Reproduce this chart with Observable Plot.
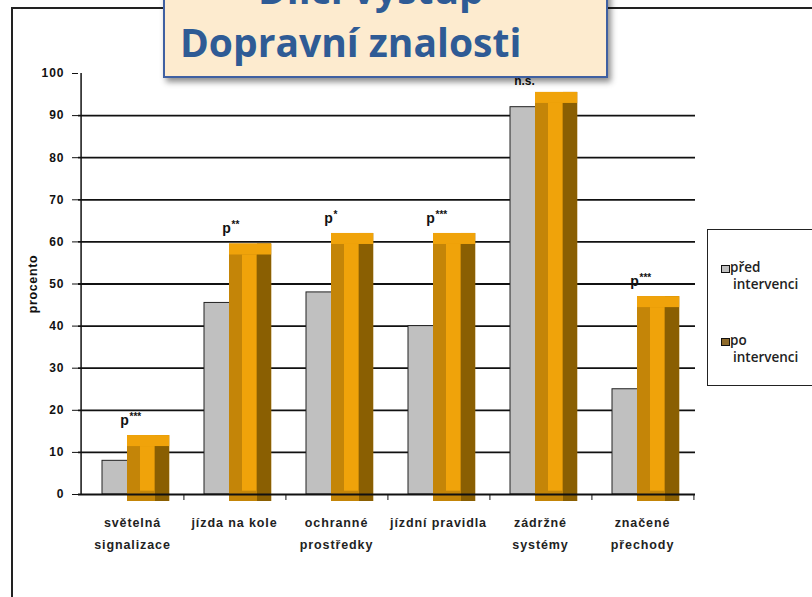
<!DOCTYPE html>
<html>
<head>
<meta charset="utf-8">
<script src="https://cdn.jsdelivr.net/npm/d3@7"></script>
<script src="https://cdn.jsdelivr.net/npm/@observablehq/plot@0.6"></script>
<style>
  html, body { margin: 0; padding: 0; background: #fff; }
  #wrap { position: relative; width: 812px; height: 597px; overflow: hidden; font-family: "Liberation Sans", Arial, sans-serif; }
  #frame { position: absolute; left: 11px; top: 7px; width: 900px; height: 700px; border: 2px solid #222; box-sizing: border-box; }
  #chart { position: absolute; left: 0; top: 0; }
  #title { position: absolute; left: 163px; top: -20px; width: 445px; height: 98px; background: #FDEBCF; border: 2px solid #3F60A2; box-sizing: border-box; box-shadow: 3px 4px 6px rgba(0,0,0,0.45); font-family: "Open Sans", "Noto Sans", sans-serif; font-weight: 700; color: #2F5B95; font-size: 39px; white-space: nowrap; overflow: hidden; }
  #title .l1 { position: absolute; left: 93px; top: -13px; line-height: 40px; }
  #title .l2 { position: absolute; left: 15px; top: 40px; line-height: 40px; }
  #legend { position: absolute; left: 707px; top: 229px; width: 130px; height: 157px; border: 1.5px solid #222; box-sizing: border-box; background: #fff; font-family: "Open Sans", sans-serif; font-size: 13.5px; color: #222; font-weight: 600; }
  .sw { position: absolute; width: 7px; height: 6px; border: 1px solid #111; }
  .lt { position: absolute; line-height: 15px; }
</style>
</head>
<body>
<div id="wrap">
  <div id="frame"></div>
  <div id="chart"></div>
  <div id="legend"></div>
  <div id="title"><div class="l1">Dílčí výstup</div><div class="l2">Dopravní znalosti</div></div>
</div>
<script>
const categories = ["světelná signalizace", "jízda na kole", "ochranné prostředky", "jízdní pravidla", "zádržné systémy", "značené přechody"];
const categoryLabels = ["světelná\nsignalizace", "jízda na kole", "ochranné\nprostředky", "jízdní pravidla", "zádržné\nsystémy", "značené\npřechody"];
const predIntervenci = [8, 45.5, 48, 40, 92, 25];
const poIntervenci = [14, 59.5, 62, 62, 95.5, 47];
const significance = ["***", "**", "*", "***", "n.s.", "***"];
const yTicks = [0, 10, 20, 30, 40, 50, 60, 70, 80, 90, 100];
const seriesNames = ["před\nintervenci", "po\nintervenci"];

const rows = categories.map((c, i) => ({cat: c, pred: predIntervenci[i], po: poIntervenci[i], sig: significance[i]}));
const labelOf = new Map(categories.map((c, i) => [c, categoryLabels[i]]));

const W = 812, H = 597, mL = 78, mR = 117, mT = 73, mB = 103;
const bw = (W - mL - mR) / categories.length;
const yPerPx = 100 / (H - mT - mB);
const bevel = 11 * yPerPx;

const greyFill = "#C0C0C0";
const goldMid = "#C48508", goldBright = "#F0A30A", goldDark = "#8A5F02";

// orange bar horizontal geometry within each band (px)
const oL = 46, oR = 89;

const plot = Plot.plot({
  width: W, height: H,
  marginLeft: mL, marginRight: mR, marginTop: mT, marginBottom: mB,
  style: {fontFamily: "'Liberation Sans', Arial, sans-serif", background: "transparent"},
  x: {type: "band", domain: categories, paddingInner: 0, paddingOuter: 0, label: null},
  y: {domain: [0, 100], label: null},
  marks: [
    Plot.ruleY(yTicks.filter(t => t > 0 && t < 100), {stroke: "#111", strokeWidth: 1.8}),
    Plot.barY(rows, {x: "cat", y: "pred", fill: greyFill, stroke: "#222", strokeWidth: 1, insetLeft: 21, insetRight: bw - 58}),
    // 3D-like orange bars (bevelled)
    Plot.barY(rows, {x: "cat", y: "po", fill: goldMid, insetLeft: oL, insetRight: bw - oR, insetBottom: -7}),
    Plot.barY(rows, {x: "cat", y: "po", fill: goldDark, insetLeft: oL + 28, insetRight: bw - oR, insetBottom: -7}),
    Plot.rectY(rows, {x: "cat", y1: d => d.po, y2: d => d.po - bevel, fill: goldBright, insetLeft: oL, insetRight: bw - oR}),
    Plot.rectY(rows, {x: "cat", y1: bevel * 0.3, y2: d => d.po - bevel, fill: goldBright, insetLeft: oL + 13, insetRight: bw - oL - 28}),
    // significance labels
    Plot.text(rows.filter(d => d.sig !== "n.s."), {x: "cat", y: "po", text: () => "p", dy: -15, dx: -8, fontSize: 14, fontWeight: "bold", fill: "#111"}),
    Plot.text(rows.filter(d => d.sig !== "n.s."), {x: "cat", y: "po", text: "sig", dy: -19, dx: -3, textAnchor: "start", fontSize: 10, fontWeight: "bold", fill: "#111"}),
    Plot.text(rows.filter(d => d.sig === "n.s."), {x: "cat", y: "po", text: "sig", dy: -11, dx: -16, fontSize: 12, fontWeight: "bold", fill: "#111"}),
    // axes
    Plot.ruleX([0], {x: () => categories[0], dx: -bw / 2, y1: 0, y2: 100, stroke: "#111", strokeWidth: 1.5}),
    Plot.ruleY([0], {stroke: "#111", strokeWidth: 1.8}),
    Plot.axisY({ticks: yTicks, tickSize: 6, tickPadding: 8, fontSize: 12, fontWeight: "bold", color: "#111", label: "procento", labelAnchor: "center", labelArrow: "none", labelOffset: 50}),
    Plot.axisX({tickSize: 6, dx: bw / 2, tickFormat: () => "", stroke: "#111"}),
    Plot.axisX({tickSize: 0, tickPadding: 17, tickFormat: d => labelOf.get(d), fontSize: 12.5, fontWeight: "bold", fill: "#222", lineHeight: 1.75})
  ]
});
plot.querySelectorAll("g[aria-label='y-axis tick label'] text").forEach(t => { t.style.letterSpacing = "1px"; });
plot.querySelectorAll("g[aria-label='x-axis tick label'] text").forEach(t => { t.style.letterSpacing = "0.9px"; });
plot.querySelectorAll("g[aria-label='y-axis label'] text").forEach(t => { t.setAttribute("font-weight", "bold"); t.setAttribute("font-size", "12.5"); t.style.letterSpacing = "0.6px"; });
document.getElementById("chart").appendChild(plot);

// legend
const legend = document.getElementById("legend");
const legendColors = [greyFill, "#8e6a2a"];
const legendTops = [30, 103];
seriesNames.forEach((name, i) => {
  const top = legendTops[i];
  const sw = document.createElement("div");
  sw.className = "sw"; sw.style.left = "13px"; sw.style.top = (top + 5) + "px"; sw.style.background = legendColors[i];
  legend.appendChild(sw);
  const [a, b] = name.split("\n");
  const t1 = document.createElement("div"); t1.className = "lt"; t1.style.left = "22px"; t1.style.top = top + "px"; t1.textContent = a;
  const t2 = document.createElement("div"); t2.className = "lt"; t2.style.left = "25px"; t2.style.top = (top + 17) + "px"; t2.textContent = b;
  legend.appendChild(t1); legend.appendChild(t2);
});
</script>
</body>
</html>
